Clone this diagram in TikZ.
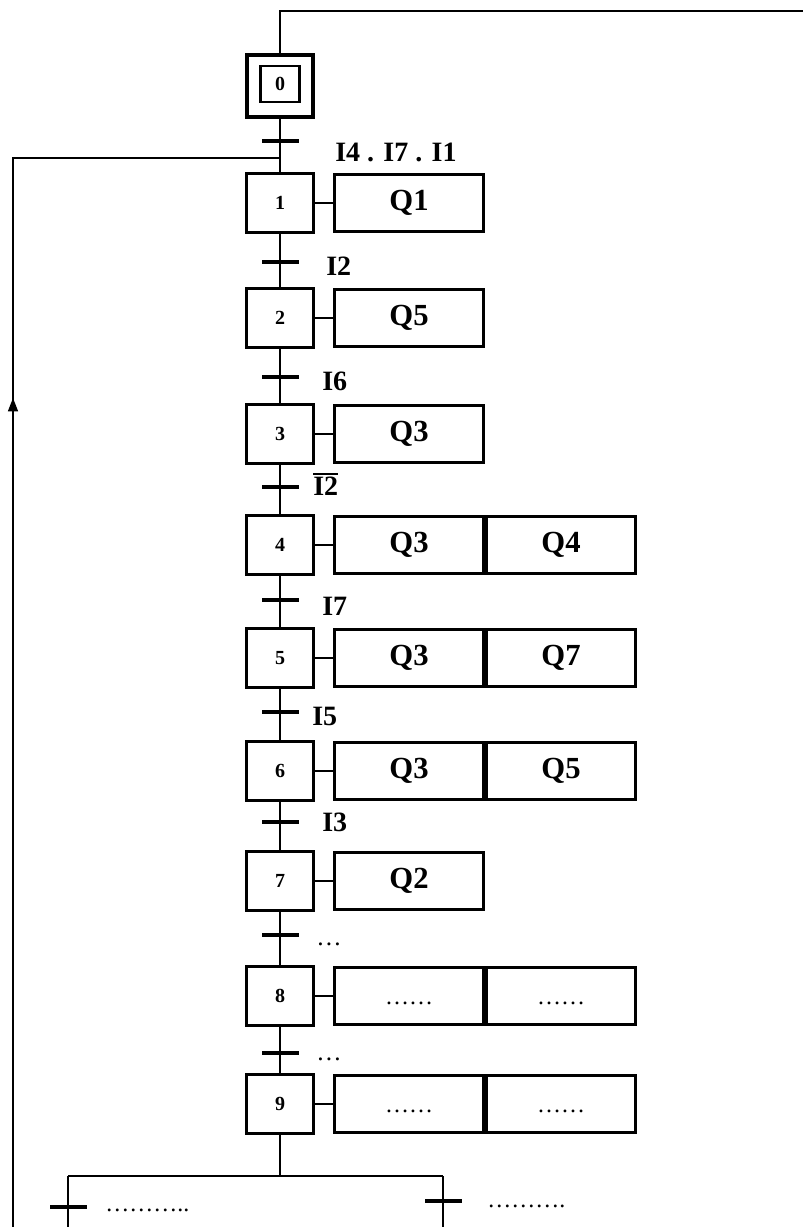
\documentclass[tikz,border=0pt]{standalone}
\usepackage{fontspec}
\setmainfont{Liberation Serif}
\usetikzlibrary{arrows.meta}

\begin{document}
\begin{tikzpicture}[x=0.75pt,y=-0.75pt,
  etape/.style={draw,line width=2.6pt,minimum width=50pt,minimum height=44.5pt,inner sep=0pt,font=\fontsize{15}{17}\selectfont\bfseries},
  action/.style={draw,line width=2.6pt,minimum width=111.6pt,minimum height=42.6pt,inner sep=0pt,font=\fontsize{23}{26}\selectfont\bfseries},
  points/.style={action,font=\fontsize{18}{20}\selectfont},
  barre/.style={fill=black,minimum width=27.75pt,minimum height=2.8pt,inner sep=0pt,outer sep=0pt},
  recept/.style={anchor=west,inner sep=0pt,font=\fontsize{21}{24}\selectfont\bfseries},
  lien/.style={line width=1pt}]
\useasboundingbox (0,0) rectangle (803,1227);
\node[etape,minimum height=46pt,line width=2.8pt] (e0) at (280,86) {};
\node[draw,line width=1.7pt,minimum width=29.25pt,minimum height=27pt,inner sep=0pt,font=\fontsize{15}{17}\selectfont\bfseries] (e0i) at (280,84) {0};
\node[etape] (e1) at (280,203) {1};
\node[etape] (e2) at (280,318) {2};
\node[etape] (e3) at (280,434) {3};
\node[etape] (e4) at (280,545) {4};
\node[etape] (e5) at (280,658) {5};
\node[etape] (e6) at (280,771) {6};
\node[etape] (e7) at (280,881) {7};
\node[etape] (e8) at (280,996) {8};
\node[etape] (e9) at (280,1104) {9};
\node[action] (a1) at (409,203) {Q1};
\node[action] (a2) at (409,318) {Q5};
\node[action] (a3) at (409,434) {Q3};
\node[action] (a4) at (409,545) {Q3};
\node[action] (b4) at (561,545) {Q4};
\node[action] (a5) at (409,658) {Q3};
\node[action] (b5) at (561,658) {Q7};
\node[action] (a6) at (409,771) {Q3};
\node[action] (b6) at (561,771) {Q5};
\node[action] (a7) at (409,881) {Q2};
\node[points] (a8) at (409,996) {\raisebox{-6pt}[0pt][0pt]{……}};
\node[points] (b8) at (561,996) {\raisebox{-6pt}[0pt][0pt]{……}};
\node[points] (a9) at (409,1104) {\raisebox{-6pt}[0pt][0pt]{……}};
\node[points] (b9) at (561,1104) {\raisebox{-6pt}[0pt][0pt]{……}};
\draw[lien] (e0) -- (e1);
\draw[lien] (e1) -- (e2);
\draw[lien] (e2) -- (e3);
\draw[lien] (e3) -- (e4);
\draw[lien] (e4) -- (e5);
\draw[lien] (e5) -- (e6);
\draw[lien] (e6) -- (e7);
\draw[lien] (e7) -- (e8);
\draw[lien] (e8) -- (e9);
\draw[lien] (e1) -- (a1);
\draw[lien] (e2) -- (a2);
\draw[lien] (e3) -- (a3);
\draw[lien] (e4) -- (a4);
\draw[lien] (e5) -- (a5);
\draw[lien] (e6) -- (a6);
\draw[lien] (e7) -- (a7);
\draw[lien] (e8) -- (a8);
\draw[lien] (e9) -- (a9);
\node[barre] (t1) at (280,141) {};
\node[barre] (t2) at (280,262) {};
\node[barre] (t3) at (280,377) {};
\node[barre] (t4) at (280,487) {};
\node[barre] (t5) at (280,600) {};
\node[barre] (t6) at (280,712) {};
\node[barre] (t7) at (280,822) {};
\node[barre] (t8) at (280,935) {};
\node[barre] (t9) at (280,1053) {};
\node[recept] (r1) at (335,152) {I4 . I7 . I1};
\node[recept] (r2) at (326,266) {I2};
\node[recept] (r3) at (322,381) {I6};
\node[recept] (r4) at (313,484) {\vbox{\hrule height 1.3pt\kern1.6pt\hbox{I2}}};
\node[recept] (r5) at (322,606) {I7};
\node[recept] (r6) at (312,716) {I5};
\node[recept] (r7) at (322,822) {I3};
\node[recept,anchor=base west,font=\fontsize{19}{22}\selectfont] (r8) at (316,945) {…};
\node[recept,anchor=base west,font=\fontsize{19}{22}\selectfont] (r9) at (316,1060) {…};
\coordinate (h1) at (803,11);
\draw[lien] (e0) |- (h1);
\coordinate (j1) at (280,158);
\coordinate (g1) at (13,1227);
\coordinate (g2) at (13,158);
\coordinate (fl) at (13,398);
\draw[lien] (g1) -- (g2) -- (j1);
\draw[lien,-{Triangle[width=7.5pt,length=10pt]}] (g1) -- (fl);
\coordinate (dg) at (68,1176);
\coordinate (dd) at (443,1176);
\coordinate (bg) at (68,1227);
\coordinate (bd) at (443,1227);
\draw[lien] (e9) -- (e9 |- dg);
\draw[lien] (dg) -- (dd);
\draw[lien] (dg) -- (bg);
\draw[lien] (dd) -- (bd);
\node[barre] (tg) at (68,1207) {};
\node[barre] (td) at (443,1201) {};
\node[recept,anchor=base west,font=\fontsize{18}{20}\selectfont] (rg) at (105,1211) {………..};
\node[recept,anchor=base west,font=\fontsize{18}{20}\selectfont] (rd) at (487,1207) {……….};
\end{tikzpicture}
\end{document}
